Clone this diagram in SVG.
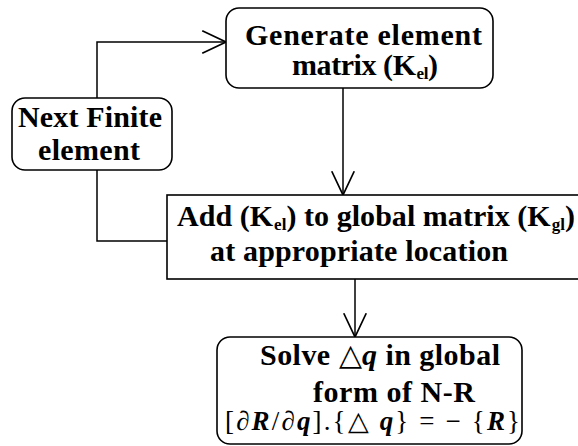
<svg xmlns="http://www.w3.org/2000/svg" width="578" height="446" viewBox="0 0 578 446">
<style>
.box{fill:#fff;stroke:#000;stroke-width:1.6}
.t{font-family:'Liberation Serif','Times New Roman',serif;font-weight:bold;font-size:30px;fill:#000}
.sub{font-size:17px}
.f{font-family:'Liberation Serif','Times New Roman',serif;font-size:27px;fill:#000}
.bi{font-weight:bold;font-style:italic}
.c{fill:none;stroke:#000;stroke-width:1.5}
</style>
<defs>
<marker id="v" markerUnits="userSpaceOnUse" markerWidth="30" markerHeight="30" refX="0" refY="0" viewBox="-22 -12 24 24" orient="auto" overflow="visible">
<path d="M-19,-9 L0,0 L-19,9" fill="none" stroke="#000" stroke-width="1.4"/>
</marker>
</defs>
<rect width="578" height="446" fill="#fff"/>
<g id="connectors">
<path class="c" d="M97,98 V42 H226" marker-end="url(#v)"/>
<path class="c" d="M167,241 H97 V170"/>
<path class="c" d="M343,88 V195" marker-end="url(#v)"/>
<path class="c" d="M355,279 V337" marker-end="url(#v)"/>
</g>
<g id="generate">
<rect class="box" x="226" y="8" width="267" height="80" rx="13"/>
<text class="t" x="245" y="45" textLength="237" lengthAdjust="spacing">Generate element</text>
<text class="t" x="292" y="75" textLength="146" lengthAdjust="spacing">matrix (K<tspan class="sub" dx="1" dy="4">el</tspan><tspan dy="-4">)</tspan></text>
</g>
<g id="next">
<rect class="box" x="12" y="98" width="160" height="72" rx="13"/>
<text class="t" x="18" y="127" textLength="144" lengthAdjust="spacing">Next Finite</text>
<text class="t" x="38" y="160" textLength="102" lengthAdjust="spacing">element</text>
</g>
<g id="add">
<rect class="box" x="167" y="195" width="420" height="84"/>
<text class="t" x="177" y="226" textLength="398" lengthAdjust="spacing">Add (K<tspan class="sub" dx="1" dy="4">el</tspan><tspan dy="-4">) to global matrix (K</tspan><tspan class="sub" dx="1" dy="4">gl</tspan><tspan dy="-4">)</tspan></text>
<text class="t" x="210" y="261" textLength="298" lengthAdjust="spacing">at appropriate location</text>
</g>
<g id="solve">
<rect class="box" x="217" y="337" width="305" height="107" rx="13"/>
<text class="t" x="260" y="365" textLength="240" lengthAdjust="spacing">Solve <tspan font-weight="normal">△</tspan><tspan font-style="italic">q</tspan> in global</text>
<text class="t" x="313" y="402" textLength="162" lengthAdjust="spacing">form of N-R</text>
<text class="f" x="225" y="430" textLength="295" lengthAdjust="spacing">[∂<tspan class="bi">R</tspan>/∂<tspan class="bi">q</tspan>].{△ <tspan class="bi">q</tspan>} = − {<tspan class="bi">R</tspan>}</text>
</g>
</svg>
